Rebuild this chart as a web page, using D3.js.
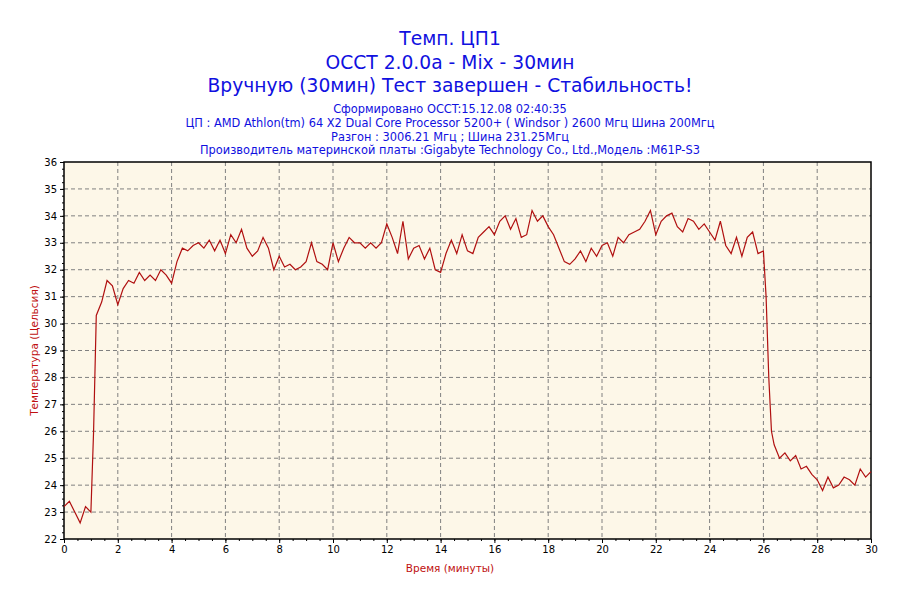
<!DOCTYPE html><html><head><meta charset="utf-8"><script src="https://cdn.jsdelivr.net/npm/d3@7"></script>
<style>body{margin:0;background:#fff}</style></head><body><svg id="c" width="900" height="600"></svg><script>
const titles=["Темп. ЦП1","OCCT 2.0.0a - Mix - 30мин","Вручную (30мин) Тест завершен - Стабильность!"];
const subtitles=["Сформировано OCCT:15.12.08 02:40:35","ЦП : AMD Athlon(tm) 64 X2 Dual Core Processor 5200+ ( Windsor ) 2600 Мгц Шина 200Мгц","Разгон : 3006.21 Мгц ; Шина 231.25Мгц","Производитель материнской платы :Gigabyte Technology Co., Ltd.,Модель :M61P-S3"];
const times=[0,0.2,0.4,0.6,0.8,1.0,1.1,1.2,1.4,1.6,1.8,2.0,2.2,2.4,2.6,2.8,3.0,3.2,3.4,3.6,3.8,4.0,4.2,4.4,4.6,4.8,5.0,5.2,5.4,5.6,5.8,6.0,6.2,6.4,6.6,6.8,7.0,7.2,7.4,7.6,7.8,8.0,8.2,8.4,8.6,8.8,9.0,9.2,9.4,9.6,9.8,10.0,10.2,10.4,10.6,10.8,11.0,11.2,11.4,11.6,11.8,12.0,12.2,12.4,12.6,12.8,13.0,13.2,13.4,13.6,13.8,14.0,14.2,14.4,14.6,14.8,15.0,15.2,15.4,15.6,15.8,16.0,16.2,16.4,16.6,16.8,17.0,17.2,17.4,17.6,17.8,18.0,18.2,18.4,18.6,18.8,19.0,19.2,19.4,19.6,19.8,20.0,20.2,20.4,20.6,20.8,21.0,21.2,21.4,21.6,21.8,22.0,22.2,22.4,22.6,22.8,23.0,23.2,23.4,23.6,23.8,24.0,24.2,24.4,24.6,24.8,25.0,25.2,25.4,25.6,25.8,26.0,26.1,26.2,26.3,26.4,26.6,26.8,27.0,27.2,27.4,27.6,27.8,28.0,28.2,28.4,28.6,28.8,29.0,29.2,29.4,29.6,29.8,30.0];
const temps=[23.2,23.4,23.0,22.6,23.2,23.0,26,30.3,30.8,31.6,31.4,30.7,31.3,31.6,31.5,31.9,31.6,31.8,31.6,32.0,31.8,31.5,32.3,32.8,32.7,32.9,33.0,32.8,33.1,32.7,33.1,32.6,33.3,33.0,33.5,32.8,32.5,32.7,33.2,32.8,32.0,32.5,32.1,32.2,32.0,32.1,32.3,33.0,32.3,32.2,32.0,33.0,32.3,32.8,33.2,33.0,33.0,32.8,33.0,32.8,33.0,33.7,33.2,32.6,33.8,32.4,32.8,32.9,32.4,32.8,32.0,31.9,32.6,33.1,32.6,33.3,32.7,32.6,33.2,33.4,33.6,33.3,33.8,34.0,33.5,33.9,33.2,33.3,34.2,33.8,34.0,33.6,33.3,32.8,32.3,32.2,32.4,32.7,32.3,32.8,32.5,32.9,33.0,32.5,33.2,33.0,33.3,33.4,33.5,33.8,34.2,33.3,33.8,34.0,34.1,33.6,33.4,33.9,33.8,33.5,33.7,33.4,33.1,33.8,32.9,32.6,33.2,32.5,33.2,33.4,32.6,32.7,31,28,26,25.5,25.0,25.2,24.9,25.1,24.6,24.7,24.4,24.2,23.8,24.3,23.9,24.0,24.3,24.2,24.0,24.6,24.3,24.5];
const xTicks=d3.range(0,31,2), yTicks=d3.range(22,37,1);
const svg=d3.select("#c");
const L=64,R=871,T=162,B=539;
const x=d3.scaleLinear().domain([0,30]).range([L,R]);
const y=d3.scaleLinear().domain([22,36]).range([B,T]);
svg.append("rect").attr("x",L).attr("y",T).attr("width",R-L).attr("height",B-T).attr("fill","#fdf7e8");
const ft="Verdana, 'DejaVu Sans', sans-serif";
[38,62,85].forEach((yy,i)=>svg.append("text").attr("x",450).attr("y",yy+7).attr("text-anchor","middle").attr("fill","#1010e0").attr("font-family",ft).attr("font-size",18.7).text(titles[i]));
[109,123,137,150].forEach((yy,i)=>svg.append("text").attr("x",450).attr("y",yy+4).attr("text-anchor","middle").attr("fill","#1010e0").attr("font-family",ft).attr("font-size",11.4).text(subtitles[i]));
const g=svg.append("g");
g.selectAll(".vx").data(xTicks.slice(1,-1)).join("line").attr("x1",d=>x(d)).attr("x2",d=>x(d)).attr("y1",T).attr("y2",B).attr("stroke","#808080").attr("stroke-dasharray","4,3");
g.selectAll(".hy").data(yTicks.slice(1,-1)).join("line").attr("y1",d=>y(d)).attr("y2",d=>y(d)).attr("x1",L).attr("x2",R).attr("stroke","#808080").attr("stroke-dasharray","4,3");
svg.append("g").attr("transform",`translate(0,${B})`).call(d3.axisBottom(x).tickValues(xTicks).tickFormat(d3.format("d")).tickSize(4).tickPadding(3));
svg.append("g").attr("transform",`translate(0,${B})`).call(d3.axisBottom(x).tickValues(d3.range(0,30.01,0.5)).tickFormat("").tickSize(2)).select(".domain").remove();
svg.append("g").attr("transform",`translate(${L},0)`).call(d3.axisLeft(y).tickValues(yTicks).tickFormat(d3.format("d")).tickSize(4).tickPadding(3));
svg.append("g").attr("transform",`translate(${L},0)`).call(d3.axisLeft(y).tickValues(d3.range(22,36.01,0.25)).tickFormat("").tickSize(2)).select(".domain").remove();
svg.selectAll(".tick text").attr("font-family",ft).attr("font-size",10).attr("fill","#000");
svg.selectAll(".domain").remove();
svg.append("rect").attr("x",L).attr("y",T).attr("width",R-L).attr("height",B-T).attr("fill","none").attr("stroke","#000").attr("stroke-width",1.5);
svg.append("path").datum(times.map((t,i)=>[t,temps[i]])).attr("d",d3.line().x(d=>x(d[0])).y(d=>y(d[1]))).attr("fill","none").attr("stroke","#b01010").attr("stroke-width",1.2);
svg.append("text").attr("x",450).attr("y",572).attr("text-anchor","middle").attr("fill","#c01010").attr("font-family",ft).attr("font-size",10.5).text("Время (минуты)");
svg.append("text").attr("transform",`translate(38,${(T+B)/2}) rotate(-90)`).attr("text-anchor","middle").attr("fill","#c01010").attr("font-family",ft).attr("font-size",10.5).text("Температура (Цельсия)");
</script></body></html>
